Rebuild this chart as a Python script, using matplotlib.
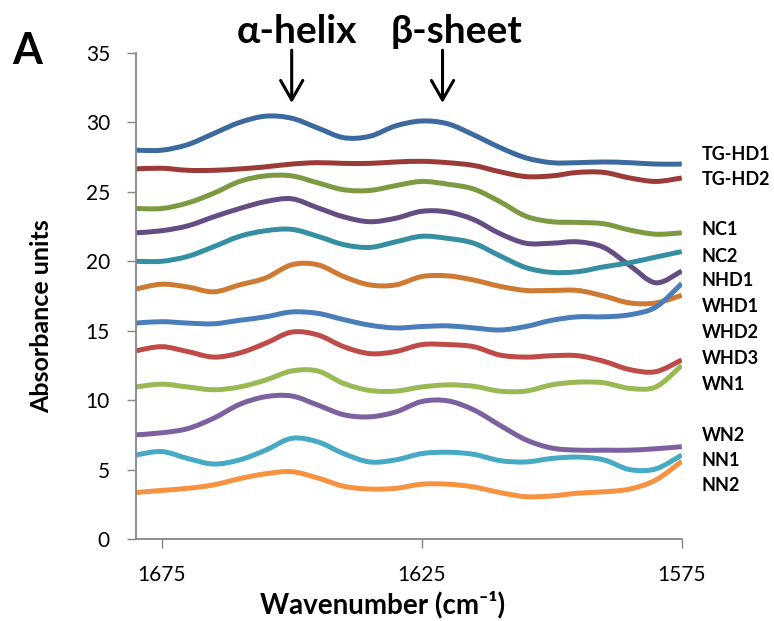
import matplotlib
matplotlib.use("Agg")
import matplotlib.pyplot as plt
from matplotlib.path import Path
from matplotlib.patches import PathPatch, FancyArrowPatch
import numpy as np

plt.rcParams["font.family"] = ["Lato", "DejaVu Sans"]

# wavenumbers (cm-1), plotted right to left
wavenumber = [1680, 1675, 1670, 1665, 1660, 1655, 1650, 1645, 1640, 1635, 1630,
              1625, 1620, 1615, 1610, 1605, 1600, 1595, 1590, 1585, 1580, 1575]

tg_hd1 = [28.0, 28.0, 28.4, 29.2, 30.0, 30.45, 30.3, 29.6, 28.9, 29.0, 29.75,
          30.1, 29.9, 29.1, 28.2, 27.45, 27.1, 27.1, 27.15, 27.1, 27.0, 27.0]
tg_hd2 = [26.65, 26.7, 26.55, 26.55, 26.65, 26.8, 27.0, 27.1, 27.05, 27.05, 27.15,
          27.2, 27.1, 26.9, 26.45, 26.1, 26.15, 26.4, 26.4, 26.0, 25.75, 26.0]
nc1 = [23.8, 23.8, 24.2, 24.9, 25.75, 26.15, 26.15, 25.65, 25.15, 25.1, 25.45,
       25.75, 25.55, 25.2, 24.3, 23.25, 22.85, 22.8, 22.7, 22.25, 21.95, 22.05]
nc2 = [22.05, 22.2, 22.55, 23.2, 23.8, 24.3, 24.5, 23.85, 23.2, 22.85, 23.1,
       23.6, 23.55, 23.0, 22.0, 21.3, 21.3, 21.4, 21.0, 19.7, 18.45, 19.3]
nhd1 = [20.0, 20.0, 20.35, 21.05, 21.8, 22.2, 22.3, 21.8, 21.2, 21.0, 21.4,
        21.8, 21.65, 21.3, 20.4, 19.55, 19.2, 19.25, 19.6, 19.9, 20.3, 20.7]
whd1 = [18.0, 18.35, 18.15, 17.8, 18.3, 18.8, 19.75, 19.75, 18.9, 18.3, 18.3,
        18.9, 18.95, 18.65, 18.2, 17.9, 17.9, 17.9, 17.5, 17.0, 17.0, 17.55]
whd2 = [15.55, 15.65, 15.55, 15.5, 15.75, 16.0, 16.35, 16.25, 15.8, 15.4, 15.2,
        15.3, 15.35, 15.2, 15.05, 15.3, 15.75, 16.0, 16.0, 16.15, 16.7, 18.4]
whd3 = [13.55, 13.85, 13.5, 13.1, 13.4, 14.1, 14.9, 14.7, 13.85, 13.35, 13.5,
        14.0, 14.0, 13.85, 13.25, 13.1, 13.2, 13.2, 12.8, 12.2, 12.05, 12.9]
wn1 = [10.95, 11.15, 10.95, 10.75, 10.95, 11.45, 12.1, 12.1, 11.2, 10.7, 10.65,
       10.95, 11.1, 11.0, 10.65, 10.65, 11.1, 11.3, 11.25, 10.85, 10.95, 12.5]
wn2 = [7.5, 7.65, 7.95, 8.7, 9.7, 10.25, 10.3, 9.65, 8.95, 8.8, 9.15,
       9.9, 9.95, 9.3, 8.2, 7.15, 6.55, 6.4, 6.4, 6.4, 6.5, 6.65]
nn1 = [6.05, 6.3, 5.8, 5.4, 5.7, 6.4, 7.25, 7.0, 6.15, 5.55, 5.7,
       6.15, 6.25, 6.1, 5.65, 5.55, 5.8, 5.9, 5.7, 5.0, 5.05, 6.05]
nn2 = [3.35, 3.5, 3.65, 3.9, 4.35, 4.7, 4.85, 4.4, 3.8, 3.6, 3.65,
       3.95, 3.95, 3.75, 3.35, 3.05, 3.1, 3.3, 3.4, 3.6, 4.25, 5.6]

names = ["TG-HD1", "TG-HD2", "NC1", "NC2", "NHD1", "WHD1",
         "WHD2", "WHD3", "WN1", "WN2", "NN1", "NN2"]
series = [tg_hd1, tg_hd2, nc1, nc2, nhd1, whd1, whd2, whd3, wn1, wn2, nn1, nn2]
colors = ["#3D6A9E", "#9B3B38", "#7B9A41", "#634D82", "#368EA2", "#CF7A32",
          "#4A7EBB", "#BE4B48", "#98B954", "#7D60A0", "#46AAC5", "#F69240"]

# where the name tags sit (y in data units)
label_y = [27.67, 25.86, 22.26, 20.32, 18.59, 16.71,
           14.84, 12.97, 11.1, 7.49, 5.69, 3.82]


def smooth_path(x, y):
    # excel-like smoothed line: catmull-rom segments as cubic beziers
    p = np.column_stack([x, y]).astype(float)
    n = len(p)
    verts = [p[0]]
    codes = [Path.MOVETO]
    for i in range(n - 1):
        p0 = p[i - 1] if i > 0 else p[i]
        p3 = p[i + 2] if i + 2 < n else p[i + 1]
        c1 = p[i] + (p[i + 1] - p0) / 6
        c2 = p[i + 1] - (p3 - p[i]) / 6
        verts += [c1, c2, p[i + 1]]
        codes += [Path.CURVE4] * 3
    return Path(verts, codes)


fig = plt.figure(figsize=(7.74, 6.21), dpi=100)
ax = fig.add_axes([0.1753, 0.1320, 0.7055, 0.7827])

for vals, col in zip(series, colors):
    ax.add_patch(PathPatch(smooth_path(wavenumber, vals), fill=False,
                           edgecolor=col, lw=3.6, capstyle="butt",
                           joinstyle="round"))

ax.set_xlim(1680, 1575)
ax.set_ylim(0, 35)
ax.set_xticks([1675, 1625, 1575])
ax.set_yticks(range(0, 36, 5))

for s in ["top", "right"]:
    ax.spines[s].set_visible(False)
for s in ["left", "bottom"]:
    ax.spines[s].set_color("#868686")
    ax.spines[s].set_linewidth(1.3)
ax.tick_params(direction="out", length=6.5, width=1.0, color="#868686",
               labelsize=15, labelcolor="black", pad=12)

ax.set_xlabel("Wavenumber (cm\u207b\u00b9)", fontsize=20, fontweight="bold",
              va="center")
ax.xaxis.set_label_coords(0.453, -0.136)
ax.set_ylabel("Absorbance units", fontsize=18, fontweight="bold", va="center")
ax.yaxis.set_label_coords(-0.172, 0.459)

tr = ax.get_yaxis_transform()
for name, ly in zip(names, label_y):
    ax.text(1.0366, ly, name, transform=tr, fontsize=13, fontweight="bold",
            va="center", ha="left", clip_on=False)

fig.text(0.0155, 0.897, "A", fontsize=31, fontweight="bold", va="baseline")
fig.text(0.3837, 0.9308, "\u03b1-helix", fontsize=28, fontweight="bold",
         ha="center", va="baseline")
fig.text(0.5904, 0.9308, "\u03b2-sheet", fontsize=28, fontweight="bold",
         ha="center", va="baseline")

# arrows pointing at the two bands
for wx in [1650, 1621]:
    arr = FancyArrowPatch((wx, 35.2), (wx, 31.4), transform=ax.transData,
                          arrowstyle="->,head_length=0.7,head_width=0.4",
                          mutation_scale=20, lw=2.2, color="black",
                          clip_on=False, shrinkA=0, shrinkB=0)
    ax.add_patch(arr)

fig.savefig("out.png", dpi=100)
